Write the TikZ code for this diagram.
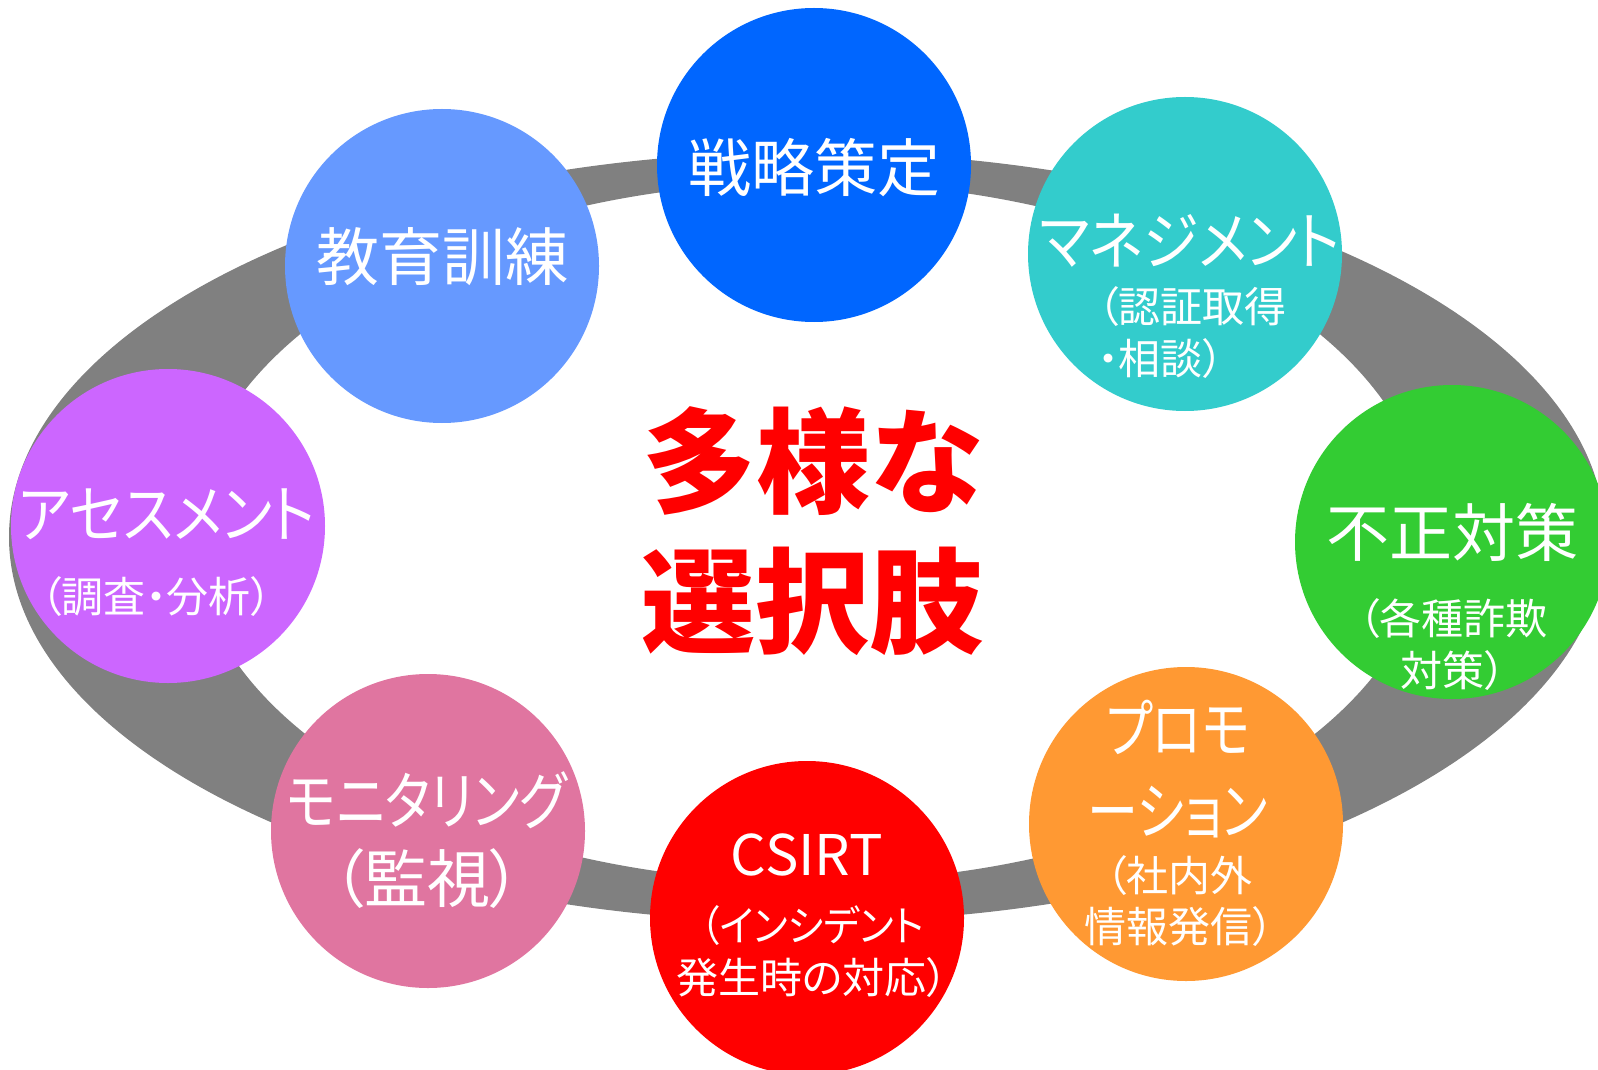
\documentclass[tikz,border=0pt]{standalone}
\usepackage{fontspec}
\setmainfont[RawFeature=+palt]{Noto Sans CJK JP}
\usetikzlibrary{positioning}
\definecolor{ringgray}{HTML}{808080}
\definecolor{strategyblue}{HTML}{0066FF}
\definecolor{educationblue}{HTML}{6699FF}
\definecolor{managementcyan}{HTML}{33CCCC}
\definecolor{assessmentviolet}{HTML}{CC66FF}
\definecolor{fraudgreen}{HTML}{33CC33}
\definecolor{monitoringpink}{HTML}{E075A0}
\definecolor{csirtred}{HTML}{FF0000}
\definecolor{promotionorange}{HTML}{FF9933}
\newcommand{\kanawidth}[2]{\scalebox{#1}[1]{#2}}

\begin{document}
\begin{tikzpicture}[x=0.5pt,y=-0.5pt]
  \tikzset{bubble/.style={circle, minimum size=157pt, inner sep=0pt},
    bubbletitle/.style={text=white, inner sep=0pt, align=center, font=\fontsize{31.5}{41}\selectfont},
    bubblesub/.style={text=white, inner sep=0pt, align=center, font=\fontsize{21}{26}\selectfont}}
  \useasboundingbox (0,0) rectangle (1598,1069);
  \fill[ringgray, even odd rule] (807,537) ellipse [x radius=798, y radius=385]
                                 (810,532) ellipse [x radius=618, y radius=350];
  \node[bubble, fill=strategyblue] (strategy) at (814,165) {};
  \node[bubble, fill=educationblue] (education) at (442,266) {};
  \node[bubble, fill=managementcyan] (management) at (1185,254) {};
  \node[bubble, fill=assessmentviolet] (assessment) at (168,526) {};
  \node[bubble, fill=fraudgreen] (fraud) at (1452,542) {};
  \node[bubble, fill=monitoringpink] (monitoring) at (428,831) {};
  \node[bubble, fill=csirtred] (csirt) at (807,918) {};
  \node[bubble, fill=promotionorange] (promotion) at (1186,824) {};
  \node[bubbletitle] (strategytext) at (814,168) {戦略策定};
  \node[bubbletitle] (educationtext) at (442,257) {教育訓練};
  \node[bubbletitle] (managementtext) at (1190,241) {\kanawidth{0.89}{マネジメント}};
  \node[bubblesub, align=left] (managementsub) at (1192,333) {（認証取得\\・相談）};
  \node[bubbletitle] (assessmenttext) at (167,514) {\kanawidth{0.89}{アセスメント}};
  \node[bubblesub] (assessmentsub) at (156,597) {（調査・分析）};
  \node[bubbletitle] (fraudtext) at (1452,532) {不正対策};
  \node[bubblesub] (fraudsub) at (1453,645) {（各種詐欺\\対策）};
  \node[bubbletitle, font=\fontsize{31.5}{39}\selectfont] (monitoringtext) at (427,840) {\kanawidth{0.83}{モニタリング}\\（監視）};
  \node[bubbletitle, font=\fontsize{28}{39}\selectfont] (csirttext) at (807,855) {CSIRT};
  \node[bubblesub] (csirtsub) at (812,952) {\kanawidth{0.92}{（インシデント}\\発生時の対応）};
  \node[bubbletitle] (promotiontext) at (1178,769) {\kanawidth{0.8}{プロモ}\\\kanawidth{0.81}{ーション}};
  \node[bubblesub, font=\fontsize{21}{25.5}\selectfont] (promotionsub) at (1179,901) {（社内外\\情報発信）};
  \node[text=csirtred, inner sep=0pt, align=center, font=\bfseries\fontsize{57}{70}\selectfont] (choices) at (812,531) {多様な\\選択肢};
\end{tikzpicture}
\end{document}
